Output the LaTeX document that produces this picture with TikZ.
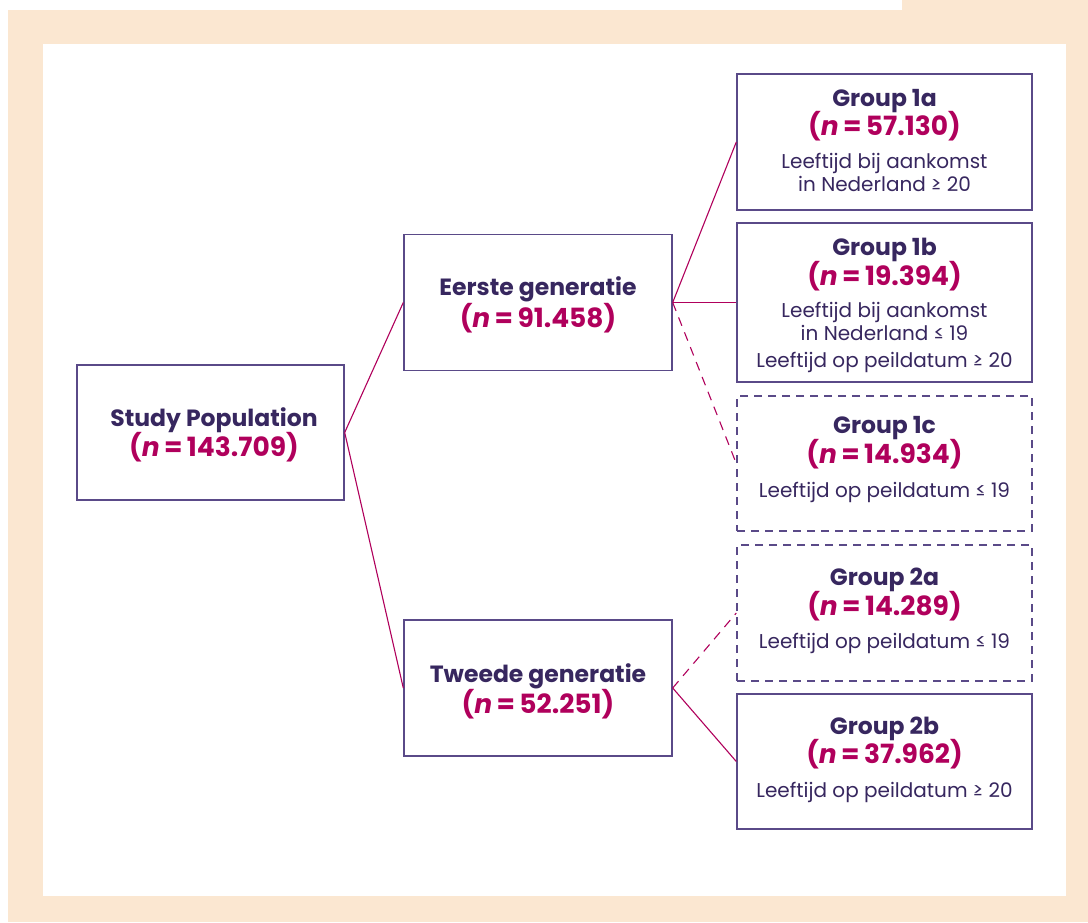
\documentclass[tikz,border=0pt]{standalone}
\usepackage{fontspec}
\setmainfont{Poppins}
\definecolor{beige}{HTML}{FBE7D1}
\definecolor{dpurple}{HTML}{37275F}
\definecolor{bpurple}{HTML}{5A4A88}
\definecolor{magenta}{HTML}{B0005C}
\newcommand\ttlf{\fontsize{23.5}{28}\selectfont\bfseries\color{dpurple}}
\newcommand\nf{\fontsize{26.5}{30}\selectfont\bfseries\color{magenta}}
\newcommand\dscf{\fontsize{20}{24}\selectfont\color{dpurple}}
\newcommand\nval[1]{(\textit{n}\,=\,#1)}
\begin{document}
\begin{tikzpicture}[x=1pt,y=-1pt,
  box/.style={draw=bpurple,line width=1.4pt,fill=white,inner sep=0pt},
  dbox/.style={box,dash pattern=on 8pt off 6pt},
  conn/.style={draw=magenta,line width=1.1pt},
  dconn/.style={conn,dash pattern=on 9pt off 7pt},
  txt/.style={anchor=base,inner sep=0pt}]
\useasboundingbox (0,0) rectangle (1088,922);
\fill[white] (0,0) rectangle (1088,922);
\fill[beige] (8,10) rectangle (1088,922);
\fill[beige] (902,0) rectangle (1088,10);
\fill[white] (43,44) rectangle (1066,896);
% boxes
\node[box,minimum width=267pt,minimum height=135pt] (sp) at (210.5,432.5) {};
\node[box,minimum width=268pt,minimum height=136pt] (eg) at (538,302.5) {};
\node[box,minimum width=268pt,minimum height=136pt] (tg) at (538,688) {};
\node[box,minimum width=295pt,minimum height=136pt] (g1a) at (884.5,142) {};
\node[box,minimum width=295pt,minimum height=159pt] (g1b) at (884.5,302.5) {};
\node[dbox,minimum width=295pt,minimum height=135pt] (g1c) at (884.5,463.5) {};
\node[dbox,minimum width=295pt,minimum height=136pt] (g2a) at (884.5,613) {};
\node[box,minimum width=295pt,minimum height=135pt] (g2b) at (884.5,761.5) {};
% connectors
\draw[conn] (sp.east) -- (eg.west);
\draw[conn] (sp.east) -- (tg.west);
\draw[conn] (eg.east) -- (g1a.west);
\draw[conn] (eg.east) -- (g1b.west);
\draw[dconn] (eg.east) -- (g1c.west);
\draw[dconn] (tg.east) -- (g2a.west);
\draw[conn] (tg.east) -- (g2b.west);
% texts
\node[txt] (sp1) at (214,426) {\ttlf Study Population};
\node[txt] (sp2) at (214,456) {\nf \nval{143.709}};
\node[txt] (eg1) at (538,295) {\ttlf Eerste generatie};
\node[txt] (eg2) at (538,327) {\nf \nval{91.458}};
\node[txt] (tg1) at (538,682) {\ttlf Tweede generatie};
\node[txt] (tg2) at (538,713) {\nf \nval{52.251}};
\node[txt] (a1) at (884.5,106) {\ttlf Group 1a};
\node[txt] (a2) at (884.5,135) {\nf \nval{57.130}};
\node[txt] (a3) at (884.5,168) {\dscf Leeftijd bij aankomst};
\node[txt] (a4) at (884.5,191) {\dscf in Nederland ≥ 20};
\node[txt] (b1) at (884.5,255) {\ttlf Group 1b};
\node[txt] (b2) at (884.5,285) {\nf \nval{19.394}};
\node[txt] (b3) at (884.5,317) {\dscf Leeftijd bij aankomst};
\node[txt] (b4) at (884.5,340) {\dscf in Nederland ≤ 19};
\node[txt] (b5) at (884.5,367) {\dscf Leeftijd op peildatum ≥ 20};
\node[txt] (c1) at (884.5,433) {\ttlf Group 1c};
\node[txt] (c2) at (884.5,463) {\nf \nval{14.934}};
\node[txt] (c3) at (884.5,497) {\dscf Leeftijd op peildatum ≤ 19};
\node[txt] (d1) at (884.5,585) {\ttlf Group 2a};
\node[txt] (d2) at (884.5,615) {\nf \nval{14.289}};
\node[txt] (d3) at (884.5,648) {\dscf Leeftijd op peildatum ≤ 19};
\node[txt] (e1) at (884.5,734) {\ttlf Group 2b};
\node[txt] (e2) at (884.5,763) {\nf \nval{37.962}};
\node[txt] (e3) at (884.5,797) {\dscf Leeftijd op peildatum ≥ 20};
\end{tikzpicture}
\end{document}
